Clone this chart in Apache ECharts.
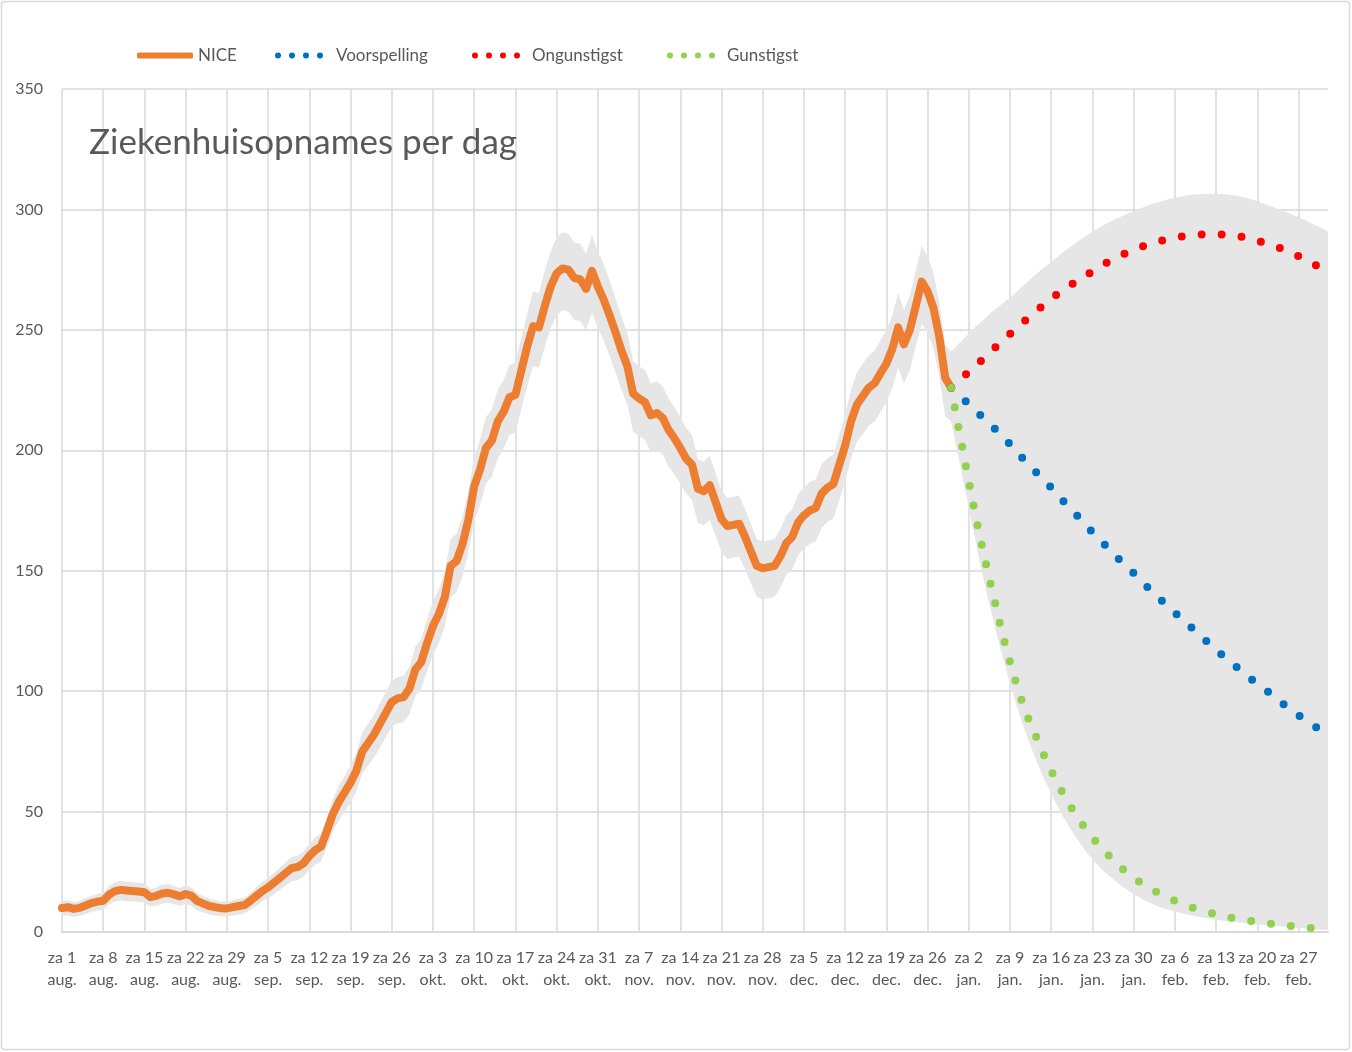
<!DOCTYPE html>
<html>
<head>
<meta charset="utf-8">
<script src="https://cdn.jsdelivr.net/npm/echarts@6/dist/echarts.min.js"></script>
<style>
  html, body { margin: 0; padding: 0; background: #ffffff; }
  #chart { width: 1352px; height: 1052px; }
</style>
</head>
<body>
<div id="chart"></div>
<script>
// ---------- DATA ----------
const startDate = [2020, 7, 1];      // za 1 aug. 2020 (month 0-based)
const dayCount = 216;                // daily categories through early March
const forecastStart = 151;           // index of 30 dec.

const tickLabels = ['za 1\naug.', 'za 8\naug.', 'za 15\naug.', 'za 22\naug.', 'za 29\naug.',
  'za 5\nsep.', 'za 12\nsep.', 'za 19\nsep.', 'za 26\nsep.',
  'za 3\nokt.', 'za 10\nokt.', 'za 17\nokt.', 'za 24\nokt.', 'za 31\nokt.',
  'za 7\nnov.', 'za 14\nnov.', 'za 21\nnov.', 'za 28\nnov.',
  'za 5\ndec.', 'za 12\ndec.', 'za 19\ndec.', 'za 26\ndec.',
  'za 2\njan.', 'za 9\njan.', 'za 16\njan.', 'za 23\njan.', 'za 30\njan.',
  'za 6\nfeb.', 'za 13\nfeb.', 'za 20\nfeb.', 'za 27\nfeb.'];

const yTicks = [0, 50, 100, 150, 200, 250, 300, 350];

const seriesNames = ['NICE', 'Voorspelling', 'Ongunstigst', 'Gunstigst'];

// NICE: daily hospital admissions, 1 aug. .. 30 dec.
const niceValues = [10,10.3,9.6,10,11,12,12.6,13,15.5,17,
  17.5,17.2,17,16.8,16.5,14.5,15,16,16.3,15.6,
  14.8,15.8,15,12.8,11.8,10.8,10.3,9.9,9.8,10.3,
  10.8,11.2,13,15,17,18.5,20.5,22.5,24.5,26.5,
  27,28.5,31.5,34,35.5,42,49,54,58,62,
  67,75,78.5,82,86.5,91,95.5,97,97.5,101,
  109,112,120,127,132,139,152,154,161,171,
  185,192,201,204,212,216,222,223,233,243,
  251.5,251,260,268,273.5,275.5,275,271.5,271,267,
  274.5,268,262.5,256,249,241.5,235,223.5,221.5,220,
  214.5,215.5,213.5,208.5,205,201,196.5,194,184,183,
  185.5,178.5,171.5,168.5,169,169.5,164,158,152,151,
  151.5,152,156,161.5,164,170,173,175,176,182,
  184.5,186,194,202,212,219,222.5,226,227.8,232,
  236,242,251,244,250,260,270,266,259,247,
  230,226];

// grey uncertainty band around NICE (1 aug. .. 29 dec.)
const niceBandHigh = [12.8,13.2,12.4,12.8,14.0,15.1,15.8,16.2,19.0,20.7,
  21.3,20.9,20.7,20.5,20.2,17.9,18.5,19.6,19.9,19.2,
  18.3,19.4,18.5,16.0,14.9,13.8,13.2,12.7,12.6,13.2,
  13.8,14.2,16.2,18.5,20.7,22.4,24.6,26.8,29.0,31.1,
  31.7,33.3,36.5,39.2,40.9,47.8,55.3,60.6,64.9,69.1,
  74.4,82.8,86.5,90.2,94.9,99.6,104.3,105.9,106.4,110.0,
  118.4,121.5,129.9,137.1,142.3,149.6,163.1,165.2,172.4,182.8,
  197.2,204.5,213.8,216.9,225.1,229.2,235.4,236.4,246.7,257.0,
  265.8,265.3,274.5,282.7,288.4,290.4,289.9,286.3,285.8,281.7,
  289.4,282.7,277.1,270.4,263.2,255.5,248.8,237.0,234.9,233.3,
  227.7,228.7,226.6,221.5,217.9,213.8,209.1,206.5,196.2,195.2,
  197.8,190.5,183.3,180.2,180.7,181.2,175.5,169.3,163.1,162.1,
  162.6,163.1,167.2,172.9,175.5,181.7,184.8,186.9,187.9,194.1,
  196.7,198.3,206.5,214.8,225.1,232.3,235.9,239.5,241.4,245.7,
  249.8,256.0,265.3,258.1,264.2,274.5,284.8,280.7,273.5,261.1,
  243.7];
const niceBandLow = [6.7,6.9,6.3,6.7,7.5,8.4,8.9,9.2,11.4,12.7,
  13.1,12.8,12.7,12.5,12.2,10.5,10.9,11.8,12.1,11.5,
  10.8,11.6,10.9,9.0,8.2,7.3,6.9,6.6,6.5,6.9,
  7.3,7.7,9.2,10.9,12.7,14.0,15.7,17.5,19.3,21.1,
  21.5,22.9,25.6,27.9,29.2,35.2,41.7,46.3,50.0,53.7,
  58.4,65.9,69.2,72.5,76.7,81.0,85.2,86.7,87.1,90.4,
  98.0,100.9,108.5,115.2,119.9,126.6,139.1,141.0,147.7,157.3,
  170.7,177.4,186.1,189.0,196.7,200.6,206.4,207.3,217.0,226.6,
  234.9,234.4,243.1,250.8,256.1,258.1,257.6,254.2,253.7,249.8,
  257.1,250.8,245.5,239.2,232.4,225.2,218.9,207.8,205.9,204.4,
  199.1,200.1,198.2,193.3,190.0,186.1,181.8,179.4,169.8,168.8,
  171.2,164.5,157.7,154.9,155.4,155.8,150.5,144.8,139.1,138.1,
  138.6,139.1,142.9,148.2,150.5,156.3,159.2,161.1,162.1,167.8,
  170.2,171.7,179.4,187.1,196.7,203.5,206.8,210.2,212.0,216.0,
  219.9,225.7,234.4,227.6,233.4,243.1,252.7,248.9,242.1,230.5,
  214.1];

// Forecasts from 30 dec. onward (65 days)
const forecastMid = [226,223.7,221.5,219,216.5,214.5,212,210,207.5,205,
  202.5,199.5,197,194.5,192,189.5,187,184.5,181.5,179,
  176.5,174,171,168.5,166,163.5,161,158.5,156,153.5,
  151,149,146.5,144,141.5,139.5,137,134.5,132.5,130.5,
  128,126,124,121.5,119.5,117.5,115,113,111,109,
  107,105,103,101,99.5,97.5,95.5,93.5,91.5,90,
  88,86.5,85,83.5,82];
const forecastWorst = [226,228.2,230.4,232.6,234.8,237,239.3,241.6,243.9,246.1,
  248.3,250.5,252.7,254.8,256.9,258.9,260.8,262.8,264.8,266.5,
  268.1,269.7,271.3,272.8,274.3,275.8,277.3,278.7,279.9,281.1,
  282.2,283.2,284.2,285,285.8,286.5,287.2,287.7,288.2,288.7,
  289,289.3,289.5,289.6,289.7,289.7,289.6,289.4,289.2,288.8,
  288.4,287.7,287,286.3,285.5,284.6,283.8,282.8,281.7,280.6,
  279.4,278.1,276.8,275.5,274.1];
const forecastBest = [226,212.5,200,187,174.5,163,152,141.5,131,121,
  112,103.5,96,89.3,83.5,77.8,72,67,61.8,57.5,
  53.2,49.3,45.7,42.3,39.3,36.4,33.7,31.2,28.8,26.4,
  24.4,22.5,20.8,19.2,17.8,16.5,15.3,14.1,12.9,11.9,
  11,10.1,9.4,8.7,8,7.4,6.8,6.2,5.8,5.3,
  4.9,4.6,4.2,3.9,3.5,3.2,2.9,2.6,2.4,2.2,
  2,1.7,1.5,1.3,1.2];
const forecastBandHigh = [241,243.5,246,248.5,251,253,255.3,257.5,259.5,261.5,
  263.3,265.5,267.8,270,272.2,274.3,276.3,278.3,280.3,282.2,
  284,285.8,287.5,289.2,290.8,292.2,293.6,294.9,296.1,297.2,
  298.3,299.3,300.3,301.2,302.1,302.9,303.6,304.3,304.9,305.4,
  305.8,306.1,306.3,306.4,306.5,306.5,306.4,306.2,305.9,305.5,
  304.9,304.2,303.4,302.5,301.6,300.7,299.8,298.8,297.8,296.8,
  295.7,294.5,293.3,292.1,290.8];
const forecastBandLow = [212,200,188,176,164,152,141,131,121,112,
  103,95,87.5,80.5,74,68,62.5,57.5,52.5,48,
  44,40,36.5,33,30,27.5,25,23,21,19,
  17.3,15.7,14.3,13,11.8,10.7,9.9,9.2,8.5,7.9,
  7.3,6.8,6.3,5.9,5.5,5.1,4.8,4.5,4.2,3.9,
  3.6,3.4,3.1,2.9,2.7,2.5,2.3,2.1,1.9,1.7,
  1.5,1.3,1.1,0.9,0.8];

const titleText = 'Ziekenhuisopnames per dag';

// ---------- BUILD ----------
const categories = [];
for (let i = 0; i < dayCount; i++) {
  const d = new Date(Date.UTC(startDate[0], startDate[1], startDate[2] + i));
  categories.push(d.toISOString().slice(0, 10));
}
function padForecast(arr) {
  const out = new Array(forecastStart).fill(null);
  return out.concat(arr);
}
const bandLow = niceBandLow.concat(forecastBandLow);
const bandHigh = niceBandHigh.concat(forecastBandHigh);
const bandDiff = bandHigh.map((h, i) => +(h - bandLow[i]).toFixed(2));

const FONT = 'Lato';
const TXT = '#595959';
const GRID = '#d9d9d9';
const dotsIcon = 'path://M0,3a3,3 0 1,0 6,0a3,3 0 1,0 -6,0zM14,3a3,3 0 1,0 6,0a3,3 0 1,0 -6,0zM28,3a3,3 0 1,0 6,0a3,3 0 1,0 -6,0zM42,3a3,3 0 1,0 6,0a3,3 0 1,0 -6,0z';

function legendFor(name, left, icon, w, h, pad) {
  return {
    data: [name], left: left, top: 47, padding: 0, icon: icon,
    itemWidth: w, itemHeight: h, selectedMode: false,
    textStyle: { fontFamily: FONT, fontSize: 17, color: TXT, padding: [0, 0, 0, pad] }
  };
}

function dotted(name, color, arr) {
  return {
    name: name, type: 'line', data: padForecast(arr),
    symbol: 'none', showSymbol: false, connectNulls: false,
    itemStyle: { color: color },
    lineStyle: { color: color, width: 8, type: [0, 20], cap: 'round', join: 'round' },
    z: 4
  };
}

const chart = echarts.init(document.getElementById('chart'), null, { renderer: 'canvas' });
chart.setOption({
  animation: false,
  backgroundColor: '#ffffff',
  title: {
    text: titleText, left: 84, top: 120,
    textStyle: { fontFamily: FONT, fontSize: 35, fontWeight: 'normal', color: TXT }
  },
  legend: [
    legendFor(seriesNames[0], 137, 'roundRect', 56, 6, 0),
    legendFor(seriesNames[1], 275, dotsIcon, 48, 6, 8),
    legendFor(seriesNames[2], 472, dotsIcon, 48, 6, 7),
    legendFor(seriesNames[3], 667, dotsIcon, 48, 6, 7)
  ],
  grid: { left: 62, right: 24, top: 89, bottom: 120, containLabel: false },
  xAxis: {
    type: 'category', data: categories, boundaryGap: false,
    axisLine: { show: true, lineStyle: { color: GRID, width: 2 } },
    axisTick: { show: false },
    axisLabel: {
      interval: 6, margin: 15, fontFamily: FONT, fontSize: 16, color: TXT, lineHeight: 22,
      formatter: function (v, idx) { return tickLabels[Math.round(idx / 7)] || ''; }
    },
    splitLine: { show: true, interval: 6, lineStyle: { color: GRID, width: 1.5 } }
  },
  yAxis: {
    type: 'value', min: yTicks[0], max: yTicks[yTicks.length - 1], interval: 50,
    axisLine: { show: false }, axisTick: { show: false },
    axisLabel: { margin: 19, fontFamily: FONT, fontSize: 16, color: TXT },
    splitLine: { show: true, lineStyle: { color: GRID, width: 1.5 } }
  },
  graphic: [{
    type: 'rect', silent: true, z: -10,
    shape: { x: 1.5, y: 1.5, width: 1348, height: 1048, r: 3 },
    style: { fill: 'none', stroke: '#d9d9d9', lineWidth: 1.5 }
  }],
  series: [
    {
      name: 'bandBase', type: 'line', data: bandLow, stack: 'band', symbol: 'none',
      lineStyle: { width: 0, opacity: 0 }, silent: true, z: 1
    },
    {
      name: 'bandSpan', type: 'line', data: bandDiff, stack: 'band', symbol: 'none',
      lineStyle: { width: 0, opacity: 0 }, silent: true, z: 1,
      areaStyle: { color: '#e6e6e6', opacity: 1 }
    },
    {
      name: seriesNames[0], type: 'line', data: niceValues, symbol: 'none', showSymbol: false,
      itemStyle: { color: '#ED7D31' },
      lineStyle: { color: '#ED7D31', width: 8, cap: 'round', join: 'round' }, z: 3
    },
    dotted(seriesNames[1], '#0070C0', forecastMid),
    dotted(seriesNames[2], '#FF0000', forecastWorst),
    dotted(seriesNames[3], '#92D050', forecastBest)
  ]
});
</script>
</body>
</html>
